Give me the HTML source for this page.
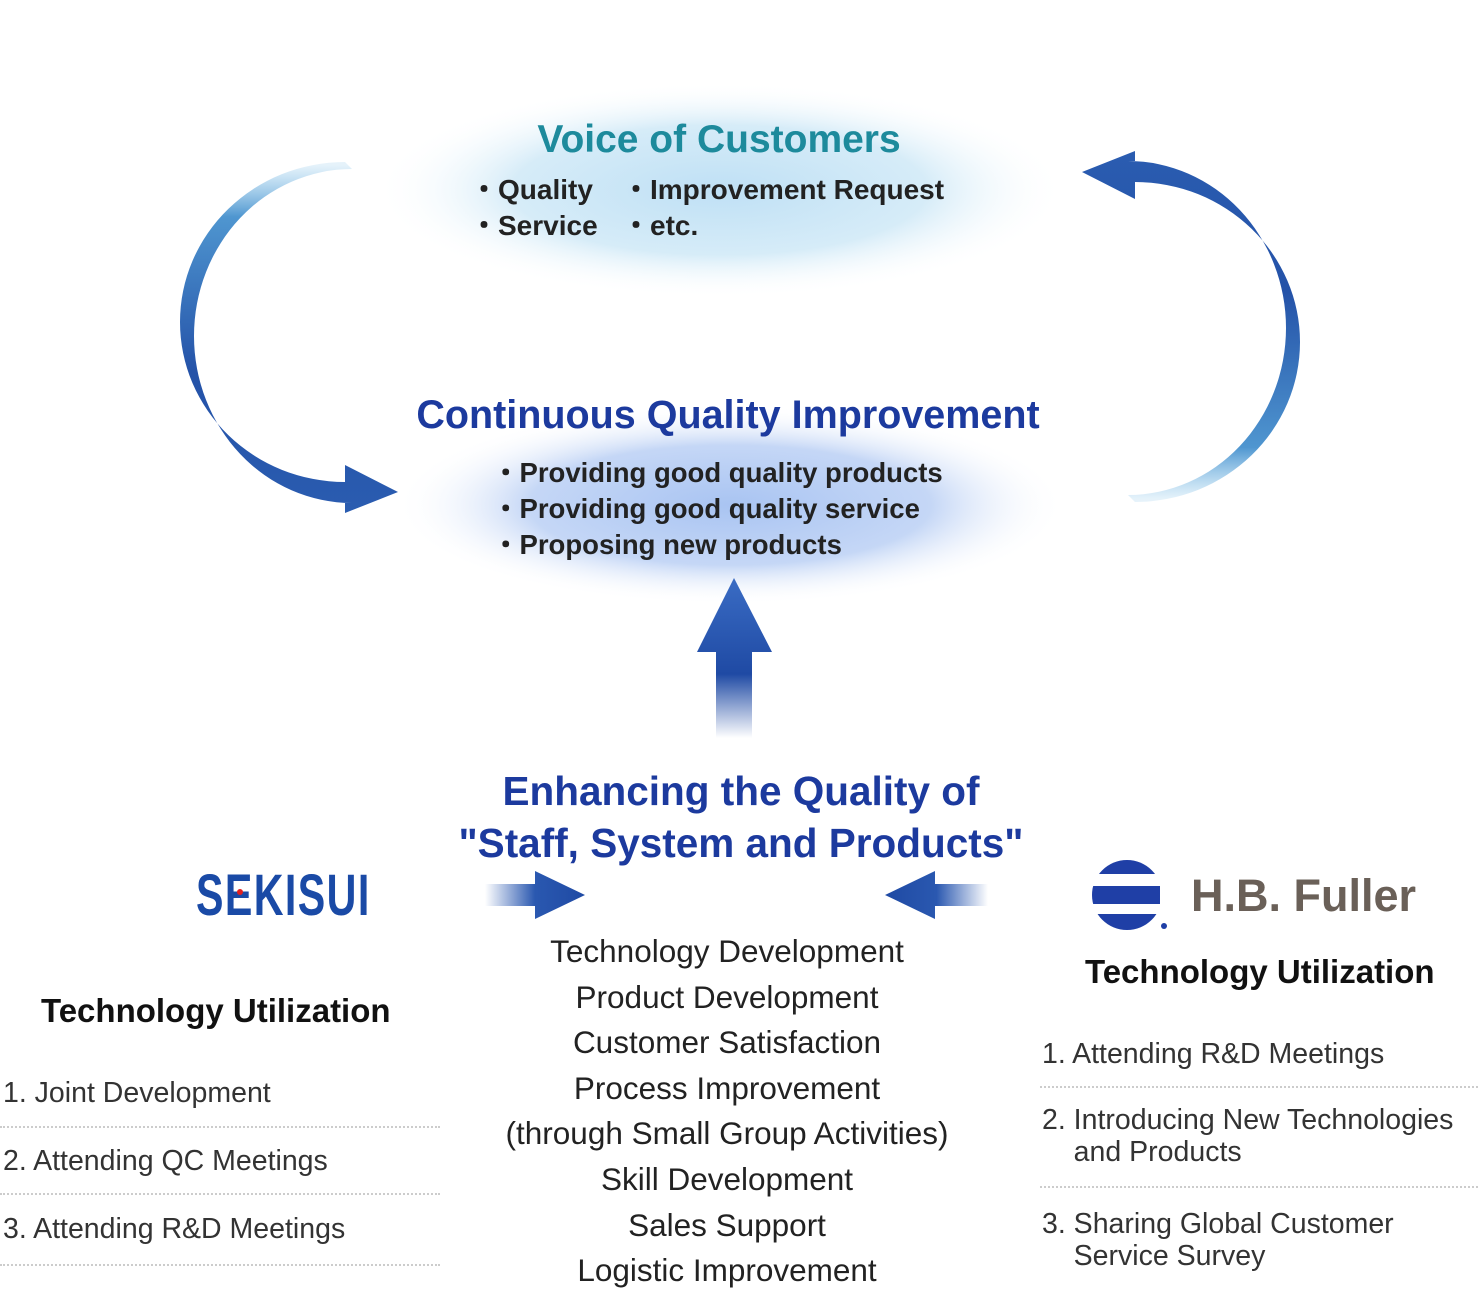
<!DOCTYPE html>
<html><head><meta charset="utf-8"><style>
body{margin:0;width:1480px;height:1294px;background:#fff;position:relative;overflow:hidden;font-family:"Liberation Sans",Arial,sans-serif}
.t{position:absolute;white-space:nowrap}
.c{transform:translateX(-50%)}
.b{font-weight:bold}
.line{position:absolute;height:0;border-top:2px dotted #ccc}
</style></head><body>
<svg width="1480" height="1294" style="position:absolute;left:0;top:0">
<defs>
<radialGradient id="g1" cx="50%" cy="50%" r="50%"><stop offset="0" stop-color="#bfe0f5"/><stop offset="0.6" stop-color="#d6ecf8"/><stop offset="1" stop-color="#fff" stop-opacity="0"/></radialGradient>
<radialGradient id="g2" cx="50%" cy="50%" r="50%"><stop offset="0" stop-color="#a9c4f2"/><stop offset="0.6" stop-color="#c5d7f6"/><stop offset="1" stop-color="#fff" stop-opacity="0"/></radialGradient>
<linearGradient id="a1" x1="0" y1="165" x2="0" y2="510" gradientUnits="userSpaceOnUse"><stop offset="0" stop-color="#7fc0e8" stop-opacity="0.2"/><stop offset="0.15" stop-color="#4f96d0"/><stop offset="0.6" stop-color="#2452a8"/><stop offset="1" stop-color="#2a5cb0"/></linearGradient>
<linearGradient id="up" x1="0" y1="578" x2="0" y2="738" gradientUnits="userSpaceOnUse"><stop offset="0" stop-color="#3a6cc4"/><stop offset="0.6" stop-color="#1f4aa4"/><stop offset="1" stop-color="#fff"/></linearGradient>
<linearGradient id="rt" x1="485" y1="0" x2="585" y2="0" gradientUnits="userSpaceOnUse"><stop offset="0" stop-color="#fff"/><stop offset="0.5" stop-color="#2a58b0"/><stop offset="1" stop-color="#1f4aa4"/></linearGradient>
<linearGradient id="lt" x1="988" y1="0" x2="885" y2="0" gradientUnits="userSpaceOnUse"><stop offset="0" stop-color="#fff"/><stop offset="0.5" stop-color="#2a58b0"/><stop offset="1" stop-color="#1f4aa4"/></linearGradient>
</defs>
<ellipse cx="720" cy="190" rx="345" ry="108" fill="url(#g1)"/>
<ellipse cx="730" cy="505" rx="335" ry="100" fill="url(#g2)"/>
<path d="M345 162 A165 160 0 0 0 345 482 L345 465 L398 492 L345 513 L345 503 L352 503 A158 167 0 0 1 352 169 Z" fill="url(#a1)"/>
<g transform="rotate(180 740 332)"><path d="M345 162 A165 160 0 0 0 345 482 L345 465 L398 492 L345 513 L345 503 L352 503 A158 167 0 0 1 352 169 Z" fill="url(#a1)"/></g>
<path d="M734 578 L772 652 L752 652 L752 738 L716 738 L716 652 L697 652 Z" fill="url(#up)"/>
<path d="M485 884 L535 884 L535 871 L585 895 L535 919 L535 906 L485 906 Z" fill="url(#rt)"/>
<path d="M988 884 L935 884 L935 871 L885 895 L935 919 L935 906 L988 906 Z" fill="url(#lt)"/>
<clipPath id="cl"><circle cx="1127" cy="895" r="35"/></clipPath>
<g clip-path="url(#cl)" fill="#1f3fa6">
<rect x="1090" y="858" width="70" height="16"/><rect x="1090" y="886" width="70" height="18"/><rect x="1090" y="914" width="70" height="20"/>
</g>
<circle cx="1164" cy="926" r="3" fill="#1f3fa6"/>
</svg>
<div class="t c b" style="left:719px;top:118px;font-size:39px;color:#1d8a9c">Voice of Customers</div>
<div class="t b" style="left:470px;top:172px;font-size:28px;line-height:36px;color:#222">・Quality<br>・Service</div>
<div class="t b" style="left:622px;top:172px;font-size:28px;line-height:36px;color:#222">・Improvement Request<br>・etc.</div>
<div class="t c b" style="left:728px;top:393px;font-size:39.5px;color:#1c3a9e">Continuous Quality Improvement</div>
<div class="t b" style="left:492px;top:455px;font-size:27.5px;line-height:36px;color:#222">・Providing good quality products<br>・Providing good quality service<br>・Proposing new products</div>
<div class="t c b" style="left:741px;top:765px;font-size:40.5px;line-height:52px;color:#1c3a9e;text-align:center">Enhancing the Quality of<br>"Staff, System and Products"</div>
<div class="t" style="left:196px;top:862px;font-size:58px;font-weight:bold;color:#1a4aa6;transform:scaleX(0.71);transform-origin:left top;letter-spacing:2px">SEKISUI</div>
<div style="position:absolute;left:237px;top:889px;width:6px;height:6px;border-radius:50%;background:#e02020"></div>
<div class="t b" style="left:1191px;top:870px;font-size:45px;color:#6a6058">H.B. Fuller</div>
<div class="t c" style="left:727px;top:929px;font-size:31.5px;line-height:45.6px;color:#222;text-align:center">Technology Development<br>Product Development<br>Customer Satisfaction<br>Process Improvement<br>(through Small Group Activities)<br>Skill Development<br>Sales Support<br>Logistic Improvement</div>
<div class="t b" style="left:41px;top:992px;font-size:33px;color:#111">Technology Utilization</div>
<div class="t b" style="left:1085px;top:953px;font-size:33px;color:#111">Technology Utilization</div>
<div class="t" style="left:3px;top:1077px;font-size:28.5px;color:#333">1. Joint Development</div>
<div class="t" style="left:3px;top:1145px;font-size:28.5px;color:#333">2. Attending QC Meetings</div>
<div class="t" style="left:3px;top:1213px;font-size:28.5px;color:#333">3. Attending R&amp;D Meetings</div>
<div class="line" style="left:0;top:1126px;width:440px"></div>
<div class="line" style="left:0;top:1193px;width:440px"></div>
<div class="line" style="left:0;top:1264px;width:440px"></div>
<div class="t" style="left:1042px;top:1038px;font-size:28.5px;color:#333">1. Attending R&amp;D Meetings</div>
<div class="t" style="left:1042px;top:1104px;font-size:28.5px;line-height:32px;color:#333">2. Introducing New Technologies<br>&nbsp;&nbsp;&nbsp;&nbsp;and Products</div>
<div class="t" style="left:1042px;top:1208px;font-size:28.5px;line-height:32px;color:#333">3. Sharing Global Customer<br>&nbsp;&nbsp;&nbsp;&nbsp;Service Survey</div>
<div class="line" style="left:1040px;top:1086px;width:438px"></div>
<div class="line" style="left:1040px;top:1186px;width:438px"></div>
</body></html>
